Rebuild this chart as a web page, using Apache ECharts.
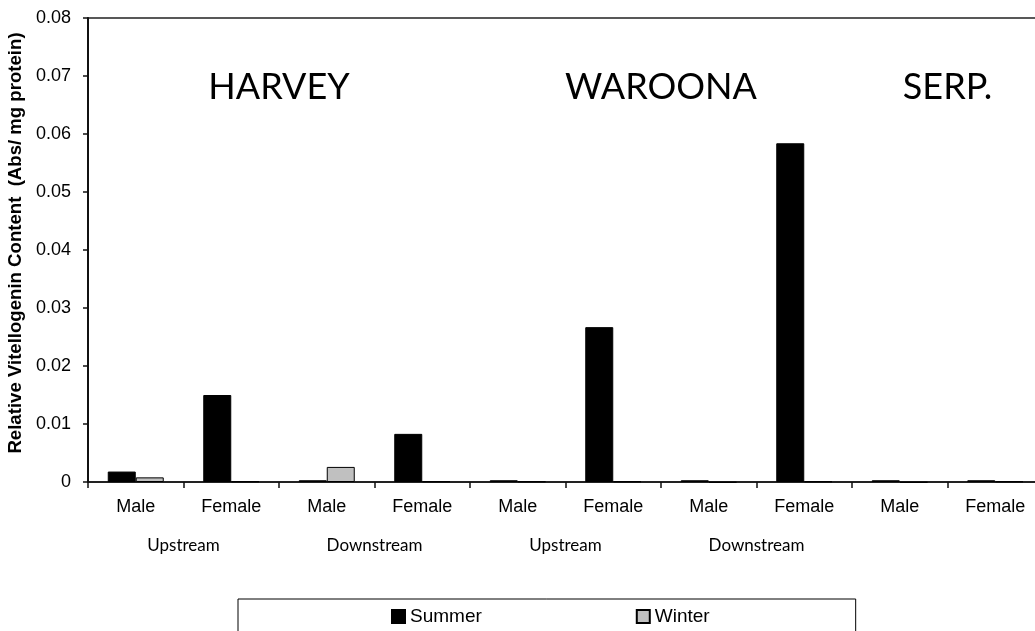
<!DOCTYPE html>
<html>
<head>
<meta charset="utf-8">
<script src="https://cdn.jsdelivr.net/npm/echarts@6/dist/echarts.min.js"></script>
<style>
  html, body { margin: 0; padding: 0; background: #fff; }
  #chart { width: 1035px; height: 631px; }
</style>
</head>
<body>
<div id="chart"></div>
<script>
// Fish groups along the x axis
const categories = ['Male', 'Female', 'Male', 'Female', 'Male', 'Female', 'Male', 'Female', 'Male', 'Female'];
// Second-level labels, one per Male/Female pair
const reaches = ['Upstream', 'Downstream', 'Upstream', 'Downstream', ''];
// River names and the category span each one covers
const sites = ['HARVEY', 'WAROONA', 'SERP.'];
const siteSpans = [[0, 3], [4, 7], [8, 9]];

// Relative vitellogenin content (Abs / mg protein)
const summer = [0.0018, 0.0150, 0.0003, 0.0083, 0.0003, 0.0267, 0.0003, 0.0584, 0.0003, 0.0003];
const winter = [0.0008, 0.0001, 0.0026, 0.0001, 0.0001, 0.0001, -0.0001, 0.0001, -0.0001, 0.0001];

const yTicks = { min: 0, max: 0.08, interval: 0.01 };
const siteLabelLevel = 0.0681;

const chart = echarts.init(document.getElementById('chart'), null, { renderer: 'canvas' });

const arial = '"Liberation Sans", Arial, sans-serif';
const humanist = 'Lato, "Open Sans", sans-serif';

chart.setOption({
  animation: false,
  backgroundColor: '#fff',
  grid: {
    // the plot frame runs a little past the right edge of the page
    left: 88, top: 18, right: -8, bottom: 149,
    outerBoundsMode: 'none',
    show: true, borderColor: '#222', borderWidth: 1.5, backgroundColor: 'transparent'
  },
  legend: {
    data: ['Summer', 'Winter'],
    left: 238, top: 599,
    padding: [8, 146, 40, 153],
    itemGap: 154,
    itemWidth: 13, itemHeight: 13,
    icon: 'rect',
    borderColor: '#000', borderWidth: 1,
    textStyle: { fontFamily: arial, fontSize: 19, color: '#000' }
  },
  xAxis: [
    {
      type: 'category',
      data: categories,
      position: 'bottom',
      axisLine: { lineStyle: { color: '#111', width: 1.5 } },
      axisTick: { show: true, length: 6, lineStyle: { color: '#111', width: 1.5 } },
      axisLabel: { fontFamily: arial, fontSize: 18, color: '#000', margin: 16, interval: 0 },
      splitLine: { show: false }
    },
    {
      type: 'category',
      data: reaches,
      position: 'bottom',
      offset: 41,
      axisLine: { show: false },
      axisTick: { show: false },
      axisLabel: { fontFamily: humanist, fontSize: 17, color: '#000', margin: 14, interval: 0 },
      splitLine: { show: false }
    }
  ],
  yAxis: {
    type: 'value',
    min: yTicks.min, max: yTicks.max, interval: yTicks.interval,
    name: 'Relative Vitellogenin Content  (Abs/ mg protein)',
    nameLocation: 'middle',
    nameGap: 62,
    nameTextStyle: {
      fontFamily: arial, fontSize: 18.6, fontWeight: 'bold', color: '#000',
      padding: [0, 0, 0, 14]
    },
    axisLine: { show: true, lineStyle: { color: '#111', width: 2 } },
    axisTick: { show: true, length: 5, lineStyle: { color: '#111', width: 1.5 } },
    axisLabel: { fontFamily: arial, fontSize: 18, color: '#000', margin: 17 },
    splitLine: { show: false }
  },
  series: [
    {
      name: 'Summer', type: 'bar', xAxisIndex: 0, data: summer,
      barWidth: 28, barGap: '0%', clip: false,
      itemStyle: { color: '#000', borderColor: '#000', borderWidth: 1 }
    },
    {
      name: 'Winter', type: 'bar', xAxisIndex: 0, data: winter,
      barWidth: 28, barGap: '0%', clip: false,
      itemStyle: { color: '#c0c0c0', borderColor: '#000', borderWidth: 1 }
    }
  ]
});

// River names, centred over the categories each river covers
const siteLabels = sites.map((name, i) => {
  const [a, b] = siteSpans[i];
  const xa = chart.convertToPixel({ xAxisIndex: 0 }, a);
  const xb = chart.convertToPixel({ xAxisIndex: 0 }, b);
  const y = chart.convertToPixel({ yAxisIndex: 0 }, siteLabelLevel);
  return {
    type: 'text',
    x: (xa + xb) / 2,
    y: y,
    style: {
      text: name,
      fontFamily: humanist,
      fontSize: 36,
      fill: '#000',
      align: 'center',
      verticalAlign: 'middle'
    }
  };
});
chart.setOption({ graphic: siteLabels });
</script>
</body>
</html>
